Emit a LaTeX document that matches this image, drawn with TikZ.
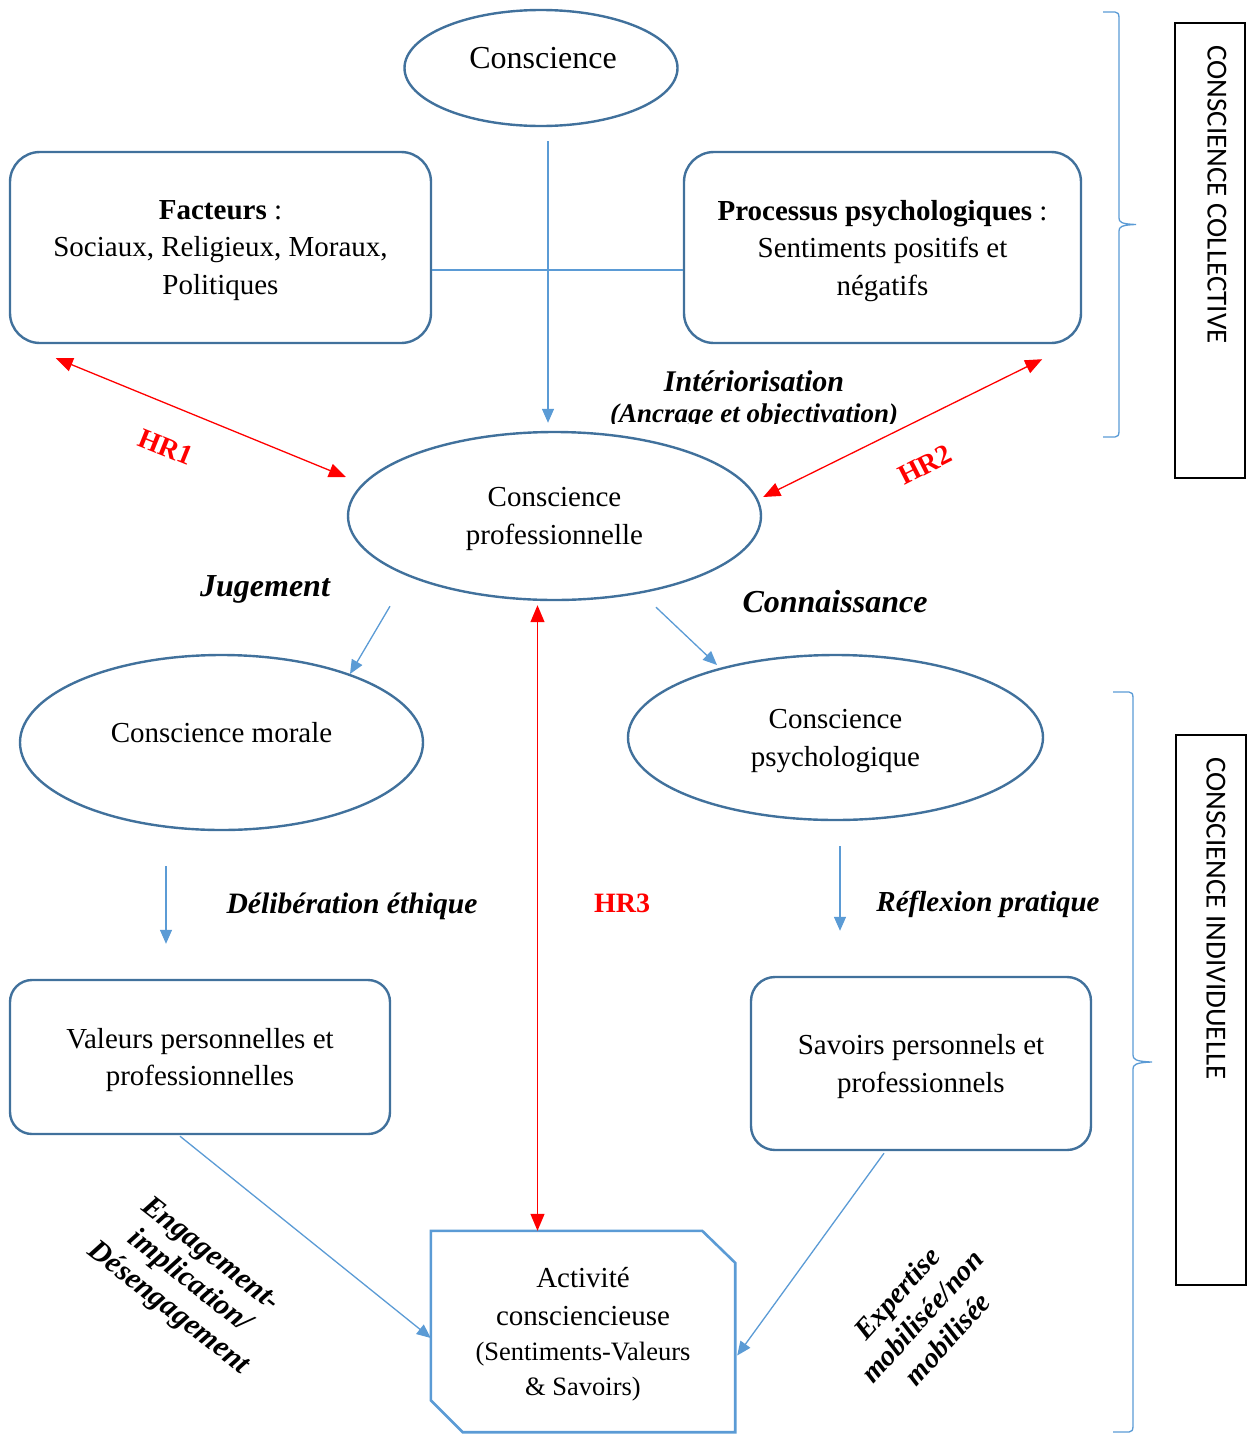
\documentclass[tikz,border=0pt]{standalone}
\usepackage{fontspec}
\setmainfont{Liberation Serif}
\newfontfamily\calibfont{Carlito}
\usetikzlibrary{shapes.geometric,arrows.meta,calc}
\definecolor{dblue}{RGB}{65,113,156}
\definecolor{lblue}{RGB}{91,155,213}
\begin{document}
\begin{tikzpicture}[x=1pt,y=-1pt,
 ell/.style={ellipse, draw=dblue, line width=2.4pt, inner sep=0pt, align=center, text depth=0pt, font=\fontsize{29}{38}\selectfont},
 rbox/.style={rectangle, rounded corners=30pt, draw=dblue, line width=2.4pt, inner sep=0pt, align=center, text depth=0pt, font=\fontsize{29}{37.5}\selectfont},
 txt/.style={align=center, font=\fontsize{29}{37.5}\selectfont, inner sep=0pt},
 lab/.style={align=center, font=\fontsize{29}{33}\selectfont\bfseries\itshape, inner sep=0pt},
 hrlab/.style={text=red, font=\fontsize{28}{32}\selectfont\bfseries, inner sep=0pt},
 conn/.style={draw=lblue, line width=1.3pt},
 carrow/.style={conn, -{Triangle[width=12pt,length=14pt]}},
 hrarrow/.style={draw=red, line width=1.3pt, {Triangle[width=14pt,length=17pt]}-{Triangle[width=14pt,length=17pt]}},
 side/.style={draw=black, line width=1.2pt, inner sep=0pt},
 sidetxt/.style={font=\calibfont\fontsize{29}{34}\selectfont, rotate=-90, anchor=west, inner sep=0pt},
 brace/.style={draw=lblue, line width=1.3pt}
]
\useasboundingbox (0,0) rectangle (1247,1438);

% shapes
\node[ell, minimum width=273pt, minimum height=116pt] (c) at (541,68) {};
\node[txt, font=\fontsize{32}{36}\selectfont] (ct) at (543,58) {Conscience};
\node[rbox, minimum width=421pt, minimum height=191pt] (fac) at (220.5,247.5) {\textbf{Facteurs} :\\Sociaux, Religieux, Moraux,\\Politiques};
\node[rbox, minimum width=397pt, minimum height=191pt] (pro) at (882.5,247.5) {\textbf{Processus psychologiques} :\\Sentiments positifs et\\négatifs};
\node[ell, minimum width=413pt, minimum height=168pt] (cp) at (554.5,516) {Conscience\\professionnelle};
\node[ell, minimum width=403pt, minimum height=175pt] (cm) at (221.5,742.5) {};
\node[txt] (cmt) at (221.5,733) {Conscience morale};
\node[ell, minimum width=415pt, minimum height=165pt] (cps) at (835.5,737.5) {Conscience\\psychologique};
\node[rbox, rounded corners=22pt, minimum width=380pt, minimum height=154pt] (val) at (200,1057) {Valeurs personnelles et\\professionnelles};
\node[rbox, rounded corners=24pt, minimum width=340pt, minimum height=173pt] (sav) at (921,1063.5) {Savoirs personnels et\\professionnels};
\node[txt, text depth=0pt, minimum width=304pt, minimum height=201pt] (act) at (583,1331.5) {Activité\\consciencieuse\\[-2pt]{\fontsize{26.5}{34}\selectfont (Sentiments-Valeurs}\\[-3pt]{\fontsize{26.5}{34}\selectfont \& Savoirs)}};
\draw[draw=lblue, line width=2.6pt] (act.north west) -- ($(act.north east)+(-33,0)$) -- ($(act.north east)+(0,32)$) -- (act.south east) -- ($(act.south west)+(32,0)$) -- ($(act.south west)+(0,-32)$) -- cycle;

% connectors
\draw[carrow] ($(c.south)+(7,14)$) -- ($(cp.north)+(-6.5,-8)$);
\draw[conn] ($(fac.east)+(0,22.5)$) -- ($(pro.west)+(0,22.5)$);
\draw[hrarrow] ($(fac.south west)+(47,14)$) -- ($(cp.west)+(-1,-39)$);
\draw[hrarrow] ($(pro.south east)+(-40,15)$) -- ($(cp.east)+(1,-19)$);
\draw[carrow] ($(cp.south)+(-164.5,5)$) -- ($(cm.center)+(128.5,-68.5)$);
\draw[carrow] ($(cp.south)+(101.5,6)$) -- ($(cps.center)+(-118.5,-72.5)$);
\draw[hrarrow] ($(cp.south)+(-17,4)$) -- ($(act.north)+(-45.5,0)$);
\draw[carrow] ($(cm.south)+(-55.5,35)$) -- ($(val.north)+(-34,-35)$);
\draw[carrow] ($(cps.south)+(4.5,25)$) -- ($(sav.north)+(-81,-45)$);
\draw[carrow] ($(val.south)+(-20,1)$) -- ($(act.west)+(0,6.5)$);
\draw[carrow] ($(sav.south)+(-37,2)$) -- ($(act.east)+(2,24)$);

% labels
\begin{scope}
\clip (580,355) rectangle (930,423.5);
\node[lab, font=\fontsize{30}{33}\selectfont\bfseries\itshape] (intr) at (754,381) {Intériorisation};
\node[lab, font=\fontsize{27}{33}\selectfont\bfseries\itshape] (anc) at (754,416) {(Ancrage et objectivation)};
\end{scope}
\node[lab, font=\fontsize{32}{36}\selectfont\bfseries\itshape] (jug) at (265,589) {Jugement};
\node[lab, font=\fontsize{32}{36}\selectfont\bfseries\itshape] (con) at (835,602) {Connaissance};
\node[lab, font=\fontsize{29.6}{33}\selectfont\bfseries\itshape] (del) at (352,906) {Délibération éthique};
\node[lab] (ref) at (988,904) {Réflexion pratique};
\node[hrlab, rotate=-22] (hr1) at (166,447) {HR1};
\node[hrlab, rotate=27] (hr2) at (925,465) {HR2};
\node[hrlab] (hr3) at (622,903) {HR3};
\node[lab, rotate=-38, font=\fontsize{30}{34}\selectfont\bfseries\itshape] (eng) at (189,1282) {Engagement-\\implication/\\Désengagement};
\node[lab, rotate=48, font=\fontsize{29}{34}\selectfont\bfseries\itshape] (exp) at (922,1316) {Expertise\\mobilisée/non\\mobilisée};

% side boxes
\node[side, minimum width=70pt, minimum height=455pt] (scol) at (1210,250.5) {};
\node[sidetxt] (scolt) at (1217,45) {CONSCIENCE COLLECTIVE};
\node[side, minimum width=70pt, minimum height=550pt] (sind) at (1211,1010) {};
\node[sidetxt] (sindt) at (1216,757) {CONSCIENCE INDIVIDUELLE};

% braces
\draw[brace] (1103,12) -- (1115,12) .. controls (1118,12) and (1119,14) .. (1119,18) -- (1119,218) .. controls (1119,222) and (1121,224) .. (1136,224.5) .. controls (1121,225) and (1119,227) .. (1119,231) -- (1119,431) .. controls (1119,435) and (1118,437) .. (1115,437) -- (1103,437);
\draw[brace] (1113,692) -- (1129,692) .. controls (1132,692) and (1133,694) .. (1133,698) -- (1133,1055) .. controls (1133,1059) and (1135,1061.5) .. (1152,1062) .. controls (1135,1062.5) and (1133,1065) .. (1133,1069) -- (1133,1426) .. controls (1133,1430) and (1132,1432) .. (1129,1432) -- (1113,1432);
\end{tikzpicture}
\end{document}
